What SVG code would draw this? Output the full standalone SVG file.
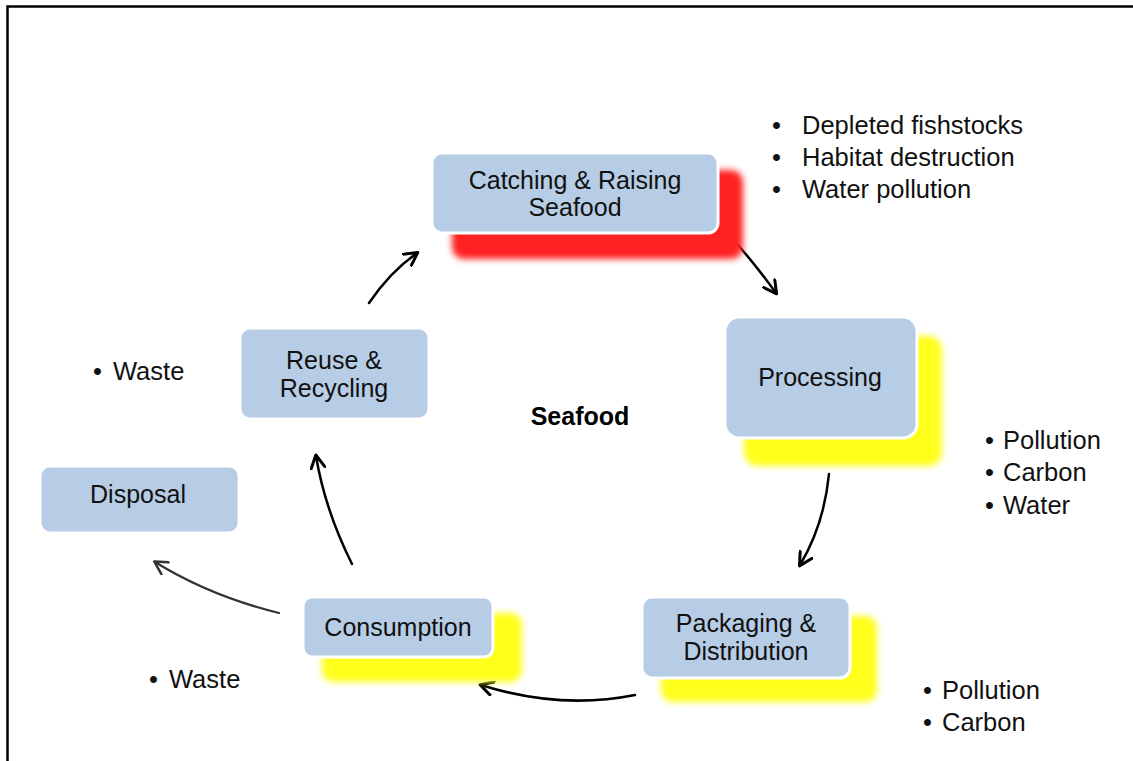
<svg xmlns="http://www.w3.org/2000/svg" width="1133" height="761" viewBox="0 0 1133 761">
  <defs>
    <filter id="soft" x="-20%" y="-30%" width="140%" height="160%">
      <feGaussianBlur stdDeviation="3"/>
    </filter>
    <marker id="head" viewBox="0 0 16 16" refX="13" refY="8" markerWidth="16" markerHeight="16" markerUnits="userSpaceOnUse" orient="auto">
      <path d="M1,1 L14,8 L1,15" fill="none" stroke="#000" stroke-width="3" stroke-linecap="round" stroke-linejoin="round"/>
    </marker>
    <marker id="headGray" viewBox="0 0 16 16" refX="13" refY="8" markerWidth="16" markerHeight="16" markerUnits="userSpaceOnUse" orient="auto">
      <path d="M1,1 L14,8 L1,15" fill="none" stroke="#333" stroke-width="2.5" stroke-linecap="round" stroke-linejoin="round"/>
    </marker>
  </defs>
  <style>
    .box { fill: #b7cce5; stroke: #ffffff; stroke-width: 3; }
    .red { fill: #ff2020; }
    .yellow { fill: #ffff1a; }
    .label { font-family: "Liberation Sans", Arial, sans-serif; font-size: 25px; fill: #111; text-anchor: middle; }
    .note { font-family: "Liberation Sans", Arial, sans-serif; font-size: 25.5px; fill: #111; }
    .title { font-family: "Liberation Sans", Arial, sans-serif; font-size: 25px; font-weight: bold; fill: #000; text-anchor: middle; }
    .arrow { fill: none; stroke: #000; stroke-width: 2.5; stroke-linecap: round; marker-end: url(#head); }
    .arrowGray { fill: none; stroke: #333; stroke-width: 2.2; stroke-linecap: round; marker-end: url(#headGray); }
  </style>

  <rect width="1133" height="761" fill="#ffffff"/>
  <!-- frame: top and left edges only -->
  <path d="M7.5,761 L7.5,6.5 L1133,6.5" fill="none" stroke="#000" stroke-width="2.5"/>

  <!-- connectors -->
  <g id="connectors">
    <path class="arrow" d="M369,303 Q390,272 417,253"/>
    <path class="arrow" d="M738,245 Q758,268 776,293"/>
    <path class="arrow" d="M829,474 Q824,525 800,565"/>
    <path class="arrow" d="M635,695 Q560,710 481,685"/>
    <path class="arrow" d="M352,564 Q325,510 316,456"/>
    <path class="arrowGray" d="M279,613 Q210,596 155,562"/>
  </g>

  <!-- nodes -->
  <g id="catching">
    <rect class="red" x="452" y="170" width="291" height="89" rx="12" filter="url(#soft)"/>
    <rect class="box" x="432" y="153" width="286" height="80" rx="10"/>
    <text class="label" x="575" y="189">Catching &amp; Raising</text>
    <text class="label" x="575" y="216">Seafood</text>
  </g>

  <g id="processing">
    <rect class="yellow" x="744" y="336" width="198" height="130" rx="14" filter="url(#soft)"/>
    <rect class="box" x="725" y="317" width="192" height="121" rx="14"/>
    <text class="label" x="820" y="386">Processing</text>
  </g>

  <g id="packaging">
    <rect class="yellow" x="661" y="616" width="216" height="86" rx="12" filter="url(#soft)"/>
    <rect class="box" x="642" y="597" width="208" height="81" rx="10"/>
    <text class="label" x="746" y="632">Packaging &amp;</text>
    <text class="label" x="746" y="660">Distribution</text>
  </g>

  <g id="consumption">
    <rect class="yellow" x="322" y="613" width="200" height="69" rx="12" filter="url(#soft)"/>
    <rect class="box" x="303" y="597" width="190" height="60" rx="9"/>
    <text class="label" x="398" y="636">Consumption</text>
  </g>

  <g id="reuse">
    <rect class="box" x="240" y="328" width="189" height="91" rx="10"/>
    <text class="label" x="334" y="369">Reuse &amp;</text>
    <text class="label" x="334" y="397">Recycling</text>
  </g>

  <g id="disposal">
    <rect class="box" x="40" y="466" width="199" height="67" rx="10"/>
    <text class="label" x="138" y="503">Disposal</text>
  </g>

  <text class="title" x="580" y="425">Seafood</text>

  <!-- impact notes -->
  <g id="impacts-catching" class="note">
    <text x="772" y="134">•</text><text x="802" y="134">Depleted fishstocks</text>
    <text x="772" y="166">•</text><text x="802" y="166">Habitat destruction</text>
    <text x="772" y="198">•</text><text x="802" y="198">Water pollution</text>
  </g>
  <g id="impacts-processing" class="note">
    <text x="985" y="449">•</text><text x="1003" y="449">Pollution</text>
    <text x="985" y="481">•</text><text x="1003" y="481">Carbon</text>
    <text x="985" y="514">•</text><text x="1003" y="514">Water</text>
  </g>
  <g id="impacts-packaging" class="note">
    <text x="923" y="699">•</text><text x="942" y="699">Pollution</text>
    <text x="923" y="731">•</text><text x="942" y="731">Carbon</text>
  </g>
  <g id="impacts-reuse" class="note">
    <text x="93" y="380">•</text><text x="113" y="380">Waste</text>
  </g>
  <g id="impacts-consumption" class="note">
    <text x="149" y="688">•</text><text x="169" y="688">Waste</text>
  </g>
</svg>
